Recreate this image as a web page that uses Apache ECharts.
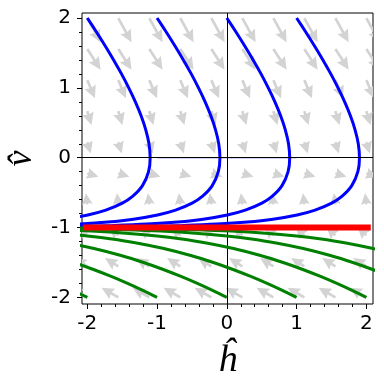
<!DOCTYPE html>
<html><head><meta charset="utf-8">
<script src="https://cdn.jsdelivr.net/npm/echarts@6/dist/echarts.min.js"></script>
<style>html,body{margin:0;padding:0;background:#fff}#c{width:384px;height:391px}</style>
</head><body><div id="c"></div>
<script>
// ---- axis ranges and ticks ----
const xRange = [-2.076, 2.095];
const yRange = [-2.094, 2.072];
const majorTicks = [-2, -1, 0, 1, 2];
const minorTicks = [-1.8, -1.6, -1.4, -1.2, -0.8, -0.6, -0.4, -0.2, 0.2, 0.4, 0.6, 0.8, 1.2, 1.4, 1.6, 1.8];

// ---- blue trajectories (v shared, h per curve) ----
const blueV  = [2, 1.8, 1.6, 1.4, 1.2, 1.0, 0.8, 0.6, 0.4, 0.2, 0, -0.2, -0.4, -0.55, -0.65, -0.75, -0.82, -0.88, -0.92, -0.95, -0.97, -0.98, -0.99, -0.995];
const blueH1 = [-2, -1.869, -1.743, -1.623, -1.510, -1.406, -1.311, -1.229, -1.162, -1.116, -1.099, -1.122, -1.209, -1.347, -1.498, -1.735, -1.993, -2.339, -2.704, -3.144, -3.635, -4.031, -4.714, -5.402];
const blueH2 = [-1, -0.869, -0.743, -0.623, -0.510, -0.406, -0.311, -0.229, -0.162, -0.116, -0.099, -0.122, -0.209, -0.347, -0.498, -0.735, -0.993, -1.339, -1.704, -2.144, -2.635, -3.031, -3.714, -4.402];
const blueH3 = [0, 0.131, 0.257, 0.377, 0.490, 0.594, 0.689, 0.771, 0.838, 0.884, 0.901, 0.878, 0.791, 0.653, 0.502, 0.265, 0.007, -0.339, -0.704, -1.144, -1.635, -2.031, -2.714, -3.402];
const blueH4 = [1, 1.131, 1.257, 1.377, 1.490, 1.594, 1.689, 1.771, 1.838, 1.884, 1.901, 1.878, 1.791, 1.653, 1.502, 1.265, 1.007, 0.661, 0.296, -0.144, -0.635, -1.031, -1.714, -2.402];

// ---- green trajectories ----
const greenV  = [-2, -1.9, -1.8, -1.7, -1.6, -1.5, -1.4, -1.3, -1.22, -1.16, -1.12, -1.08, -1.05, -1.03, -1.02, -1.01, -1.005, -1.002];
const greenH1 = [-2, -2.205, -2.423, -2.657, -2.911, -3.193, -3.516, -3.904, -4.294, -4.673, -5.000, -5.446, -5.946, -6.477, -6.892, -7.595, -8.293, -9.213];
const greenH2 = [-1, -1.205, -1.423, -1.657, -1.911, -2.193, -2.516, -2.904, -3.294, -3.673, -4.000, -4.446, -4.946, -5.477, -5.892, -6.595, -7.293, -8.213];
const greenH3 = [0, -0.205, -0.423, -0.657, -0.911, -1.193, -1.516, -1.904, -2.294, -2.673, -3.000, -3.446, -3.946, -4.477, -4.892, -5.595, -6.293, -7.213];
const greenH4 = [1, 0.795, 0.577, 0.343, 0.089, -0.193, -0.516, -0.904, -1.294, -1.673, -2.000, -2.446, -2.946, -3.477, -3.892, -4.595, -5.293, -6.213];
const greenH5 = [2, 1.795, 1.577, 1.343, 1.089, 0.807, 0.484, 0.096, -0.294, -0.673, -1.000, -1.446, -1.946, -2.477, -2.892, -3.595, -4.293, -5.213];
const greenH6 = [3, 2.795, 2.577, 2.343, 2.089, 1.807, 1.484, 1.096, 0.706, 0.327, 0.000, -0.446, -0.946, -1.477, -1.892, -2.595, -3.293, -4.213];
const greenH7 = [4, 3.795, 3.577, 3.343, 3.089, 2.807, 2.484, 2.096, 1.706, 1.327, 1.000, 0.554, 0.054, -0.477, -0.892, -1.595, -2.293, -3.213];

// ---- red line (v = -1) and thin blue line (v = 0) ----
const redH = [-2.02, 2.02];
const redV = [-1, -1];
const zeroH = [-1, 1];
const zeroV = [0, 0];

// ---- arrow field (tail grid + per-row vector) ----
const arrowCols = [-2, -1.556, -1.111, -0.667, -0.222, 0.222, 0.667, 1.111, 1.556, 2];
const arrowRows = [2, 1.556, 1.111, 0.667, 0.222, -0.222, -0.667, -1.111, -1.556, -2];
const arrowDh   = [0.19, 0.19, 0.11, 0.06, 0.05, 0.16, -0.02, -0.13, -0.19, -0.24];
const arrowDv   = [-0.348, -0.295, -0.26, -0.2, -0.16, -0.05, 0.16, 0.13, 0.12, 0.139];

function zip(xs, ys) { return xs.map((x, i) => [x, ys[i]]); }

const arrowData = [];
arrowRows.forEach((v, r) => {
  arrowCols.forEach((h) => { arrowData.push([h, v, arrowDh[r], arrowDv[r]]); });
});

const SHAFT = 2.7;
function renderArrow(params, api) {
  const h = api.value(0), v = api.value(1), dh = api.value(2), dv = api.value(3);
  const p0 = api.coord([h, v]);
  const p1 = api.coord([h + dh, v + dv]);
  const ddx = p1[0] - p0[0], ddy = p1[1] - p0[1];
  const L = Math.hypot(ddx, ddy);
  const ux = ddx / L, uy = ddy / L, nx = -uy, ny = ux;
  const w = SHAFT, hl = 4.6 * w, hal = 4.1 * w, hw = 4.4 * w;
  let len = L, s = 1;
  if (L < hl) { len = hl; s = L / hl; }
  const local = [[0, -w / 2], [len - hal, -w / 2], [len - hl, -hw / 2], [len, 0], [len - hl, hw / 2], [len - hal, w / 2], [0, w / 2]];
  const pts = local.map(([a, b]) => [p0[0] + (a * ux + b * nx) * s, p0[1] + (a * uy + b * ny) * s]);
  return { type: 'polygon', shape: { points: pts }, style: { fill: '#d3d3d3' } };
}

function lineSeries(data, color, width, z, extra) {
  return Object.assign({
    type: 'line', data: data, showSymbol: false, symbol: 'none', z: z, clip: true,
    lineStyle: { color: color, width: width }, silent: true, animation: false
  }, extra || {});
}

const labelFont = { fontFamily: 'DejaVu Sans', fontSize: 20, color: '#000' };
const chart = echarts.init(document.getElementById('c'), null, { renderer: 'canvas' });
chart.setOption({
  animation: false,
  grid: { left: 82, top: 13, width: 291, height: 291, show: true, borderColor: '#000', borderWidth: 1,
          backgroundColor: 'transparent', containLabel: false, outerBoundsMode: 'none' },
  xAxis: [
    { type: 'value', min: xRange[0], max: xRange[1], position: 'bottom',
      axisLine: { show: false, onZero: false }, splitLine: { show: false },
      axisTick: { show: true, length: 5, lineStyle: { color: '#000', width: 1 }, customValues: majorTicks },
      axisLabel: Object.assign({ customValues: majorTicks, margin: 10 }, labelFont),
      name: 'ĥ', nameLocation: 'middle', nameGap: 38,
      nameTextStyle: { fontFamily: 'Liberation Serif', fontStyle: 'italic', fontSize: 38, color: '#000' } },
    { type: 'value', min: xRange[0], max: xRange[1], position: 'bottom',
      axisLine: { show: false, onZero: false }, splitLine: { show: false },
      axisTick: { show: true, length: 3, lineStyle: { color: '#000', width: 1 }, customValues: minorTicks },
      axisLabel: { show: false } }
  ],
  yAxis: [
    { type: 'value', min: yRange[0], max: yRange[1], position: 'left',
      axisLine: { show: false, onZero: false }, splitLine: { show: false },
      axisTick: { show: true, length: 5, lineStyle: { color: '#000', width: 1 }, customValues: majorTicks },
      axisLabel: Object.assign({ customValues: majorTicks, margin: 11 }, labelFont),
      name: 'v\u0302', nameLocation: 'middle', nameGap: 42, nameRotate: 90,
      nameTextStyle: { fontFamily: 'Liberation Serif', fontStyle: 'italic', fontSize: 36, color: '#000' } },
    { type: 'value', min: yRange[0], max: yRange[1], position: 'left',
      axisLine: { show: false, onZero: false }, splitLine: { show: false },
      axisTick: { show: true, length: 3, lineStyle: { color: '#000', width: 1 }, customValues: minorTicks },
      axisLabel: { show: false } }
  ],
  series: [
    { type: 'custom', renderItem: renderArrow, data: arrowData, clip: true, z: 1, silent: true, animation: false },
    lineSeries([], '#000', 1, 2, {
      markLine: { silent: true, symbol: 'none', animation: false, label: { show: false },
        lineStyle: { color: '#000', width: 1, type: 'solid' },
        data: [{ xAxis: 0 }, { yAxis: 0 }] } }),
    lineSeries(zip(zeroH, zeroV), '#5656d8', 1.2, 3),
    lineSeries(zip(blueH1, blueV), '#0000ff', 3, 4, { smooth: 0.3 }),
    lineSeries(zip(blueH2, blueV), '#0000ff', 3, 4, { smooth: 0.3 }),
    lineSeries(zip(blueH3, blueV), '#0000ff', 3, 4, { smooth: 0.3 }),
    lineSeries(zip(blueH4, blueV), '#0000ff', 3, 4, { smooth: 0.3 }),
    lineSeries(zip(greenH1, greenV), '#008000', 3, 5, { smooth: 0.3 }),
    lineSeries(zip(greenH2, greenV), '#008000', 3, 5, { smooth: 0.3 }),
    lineSeries(zip(greenH3, greenV), '#008000', 3, 5, { smooth: 0.3 }),
    lineSeries(zip(greenH4, greenV), '#008000', 3, 5, { smooth: 0.3 }),
    lineSeries(zip(greenH5, greenV), '#008000', 3, 5, { smooth: 0.3 }),
    lineSeries(zip(greenH6, greenV), '#008000', 3, 5, { smooth: 0.3 }),
    lineSeries(zip(greenH7, greenV), '#008000', 3, 5, { smooth: 0.3 }),
    lineSeries(zip(redH, redV), '#ff0000', 6, 6, { lineStyle: { color: '#ff0000', width: 6, cap: 'square' } })
  ]
});
</script></body></html>
